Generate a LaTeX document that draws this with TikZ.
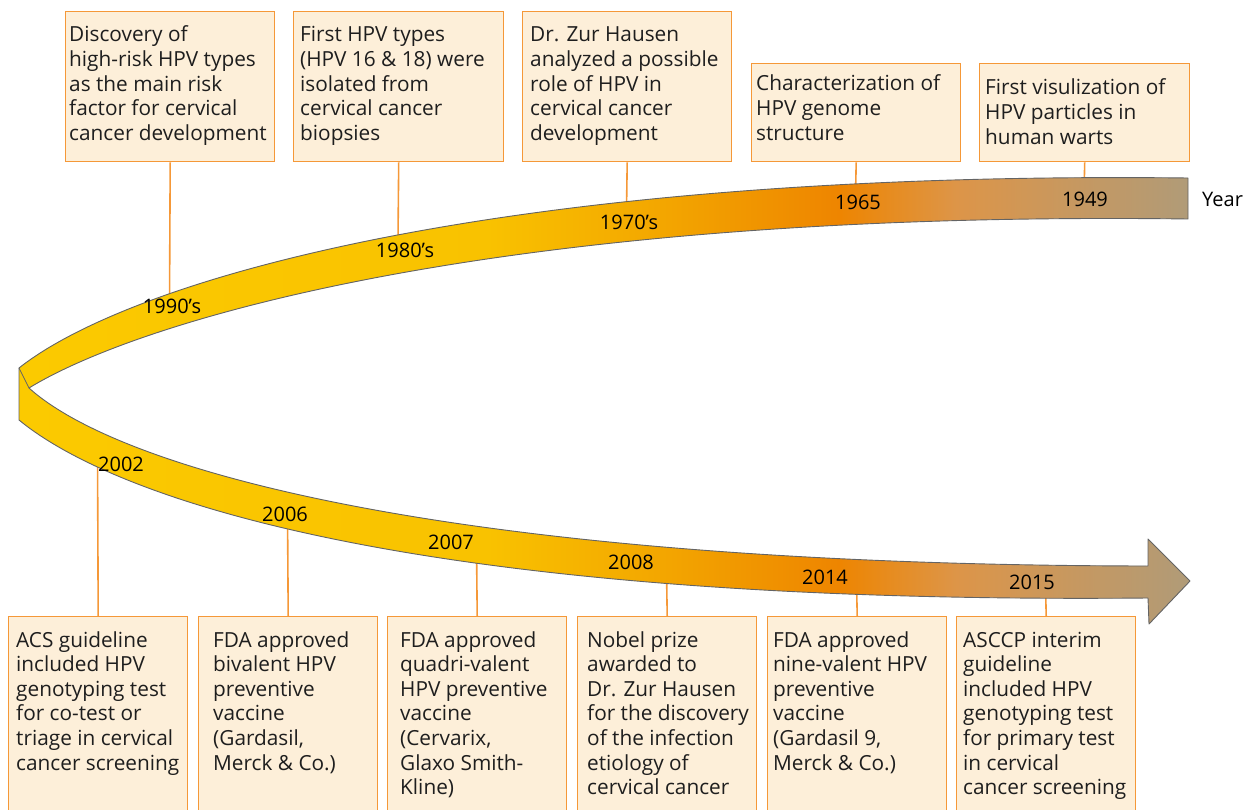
\documentclass[tikz,border=0pt]{standalone}
\usepackage{fontspec}
\setmainfont{Open Sans}
\definecolor{boxline}{RGB}{245,152,56}
\definecolor{boxfill}{RGB}{253,239,217}
\definecolor{edge}{RGB}{100,100,100}
\definecolor{ink}{RGB}{30,30,30}
\definecolor{rY}{RGB}{251,202,0}
\definecolor{rY2}{RGB}{249,194,0}
\definecolor{rA}{RGB}{243,166,0}
\definecolor{rO}{RGB}{238,133,0}
\definecolor{rD}{RGB}{221,149,72}
\definecolor{rT}{RGB}{176,155,120}
\pgfdeclarehorizontalshading{ribbon}{100bp}{color(0bp)=(rY); color(25bp)=(rY); color(45bp)=(rY2); color(52.5bp)=(rA); color(60bp)=(rO); color(65bp)=(rD); color(75bp)=(rT); color(100bp)=(rT)}
\newcommand{\bt}[1]{\parbox[t]{200pt}{\raggedright #1}}
\tikzset{
  evbox/.style={draw=boxline, fill=boxfill, line width=1.4pt, inner sep=0pt, anchor=north west},
  conn/.style={draw=boxline, line width=1.6pt},
  txt/.style={anchor=base west, inner sep=0pt, text=ink, font=\fontsize{20.8}{24.6}\selectfont},
  yr/.style={anchor=base, inner sep=0pt, text=black, font=\fontsize{20}{24}\selectfont},
}
\begin{document}
\begin{tikzpicture}[x=1pt, y=-1pt]
\clip (0,0) rectangle (1250,810);
% top boxes
\node[evbox, minimum width=209pt, minimum height=150pt] (t1) at (65,11) {};
\node[evbox, minimum width=210pt, minimum height=150pt] (t2) at (293,11) {};
\node[evbox, minimum width=209pt, minimum height=150pt] (t3) at (522,11) {};
\node[evbox, minimum width=209pt, minimum height=98pt] (t4) at (751,63) {};
\node[evbox, minimum width=210pt, minimum height=98pt] (t5) at (979,63) {};
% bottom boxes
\node[evbox, minimum width=179pt, minimum height=220pt] (b1) at (8,616) {};
\node[evbox, minimum width=179pt, minimum height=220pt] (b2) at (198,616) {};
\node[evbox, minimum width=179pt, minimum height=220pt] (b3) at (387,616) {};
\node[evbox, minimum width=179pt, minimum height=220pt] (b4) at (577,616) {};
\node[evbox, minimum width=179pt, minimum height=220pt] (b5) at (767,616) {};
\node[evbox, minimum width=179pt, minimum height=220pt] (b6) at (956,616) {};
% anchor points on the ribbon
\coordinate (k1) at (169.5,305);
\coordinate (k2) at (398,240);
\coordinate (k3) at (626.5,210);
\coordinate (k4) at (855.5,195);
\coordinate (k5) at (1084,195);
\coordinate (m1) at (97.5,450);
\coordinate (m2) at (287.5,510);
\coordinate (m3) at (476.5,545);
\coordinate (m4) at (666.5,570);
\coordinate (m5) at (856.5,580);
\coordinate (m6) at (1045.5,585);
% connectors
\draw[conn] (t1.south) -- (k1);
\draw[conn] (t2.south) -- (k2);
\draw[conn] (t3.south) -- (k3);
\draw[conn] (t4.south) -- (k4);
\draw[conn] (t5.south) -- (k5);
\draw[conn] (m1) -- (b1.north);
\draw[conn] (m2) -- (b2.north);
\draw[conn] (m3) -- (b3.north);
\draw[conn] (m4) -- (b4.north);
\draw[conn] (m5) -- (b5.north);
\draw[conn] (m6) -- (b6.north);
% ribbon
\shadedraw[shading=ribbon, draw=edge, line width=0.9pt, line join=round]
 (1188,178) .. controls (500,170) and (130,280) .. (19,368)
 -- (19,420)
 .. controls (110,495) and (400,605) .. (1148,598)
 -- (1149,624) -- (1190,581) -- (1148,539) -- (1148,566)
 .. controls (450,565) and (120,470) .. (29,388)
 .. controls (140,320) and (500,210) .. (1188,219)
 -- cycle;
\draw[edge, line width=0.8pt] (19,368) -- (29,388);
% year labels
\node[yr] (y1) at (172,313) {1990’s};
\node[yr] (y2) at (405,258) {1980’s};
\node[yr] (y3) at (629,230) {1970’s};
\node[yr] (y4) at (858,210) {1965};
\node[yr] (y5) at (1085,207) {1949};
\node[yr, anchor=base west] (yl) at (1202,207) {Year};
\node[yr] (z1) at (121,471) {2002};
\node[yr] (z2) at (285,521) {2006};
\node[yr] (z3) at (451,549) {2007};
\node[yr] (z4) at (631,569) {2008};
\node[yr] (z5) at (825,584) {2014};
\node[yr] (z6) at (1032,589) {2015};
% texts
\node[txt] (t1l) at (69,42) {\bt{Discovery of\\high-risk HPV types\\as the main risk\\factor for cervical\\cancer development}};
\node[txt] (t2l) at (300,42) {\bt{First HPV types\\(HPV 16 \& 18) were\\isolated from\\cervical cancer\\biopsies}};
\node[txt] (t3l) at (530,42) {\bt{Dr. Zur Hausen\\analyzed a possible\\role of HPV in\\cervical cancer\\development}};
\node[txt] (t4l) at (756,91) {\bt{Characterization of\\HPV genome\\structure}};
\node[txt] (t5l) at (985,95) {\bt{First visulization of\\HPV particles in\\human warts}};
\node[txt] (b1l) at (16,647) {\bt{ACS guideline\\included HPV\\genotyping test\\for co-test or\\triage in cervical\\cancer screening}};
\node[txt] (b2l) at (213,647) {\bt{FDA approved\\bivalent HPV\\preventive\\vaccine\\(Gardasil,\\Merck \& Co.)}};
\node[txt] (b3l) at (400,647) {\bt{FDA approved\\quadri-valent\\HPV preventive\\vaccine\\(Cervarix,\\Glaxo Smith-\\Kline)}};
\node[txt] (b4l) at (587,647) {\bt{Nobel prize\\awarded to\\Dr. Zur Hausen\\for the discovery\\of the infection\\etiology of\\cervical cancer}};
\node[txt] (b5l) at (773,647) {\bt{FDA approved\\nine-valent HPV\\preventive\\vaccine\\(Gardasil 9,\\Merck \& Co.)}};
\node[txt] (b6l) at (963,647) {\bt{ASCCP interim\\guideline\\included HPV\\genotyping test\\for primary test\\in cervical\\cancer screening}};
\end{tikzpicture}
\end{document}
